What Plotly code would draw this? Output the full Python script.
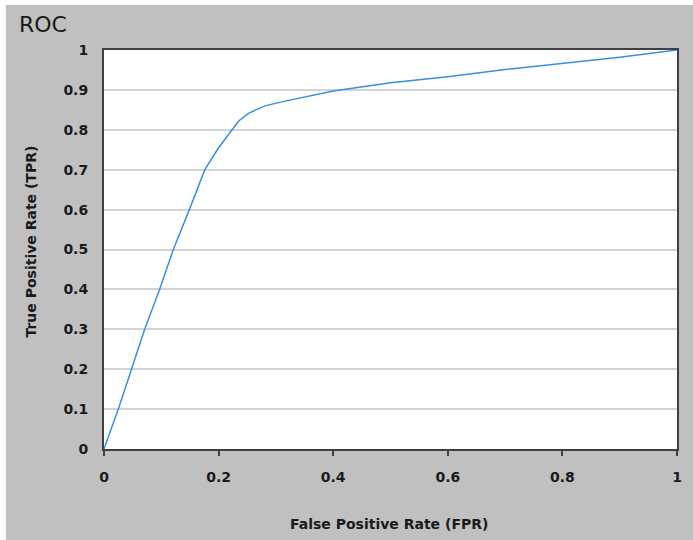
import plotly.graph_objects as go

fpr = [0, 0.025, 0.048, 0.071, 0.097, 0.121, 0.149, 0.176, 0.2, 0.223, 0.235, 0.253, 0.281, 0.31, 0.339, 0.4, 0.5, 0.6, 0.7, 0.8, 0.9, 1.0]
tpr = [0, 0.1, 0.2, 0.3, 0.4, 0.5, 0.6, 0.7, 0.755, 0.8, 0.822, 0.842, 0.86, 0.87, 0.879, 0.897, 0.918, 0.933, 0.951, 0.967, 0.982, 1.0]

x_ticks = [0, 0.2, 0.4, 0.6, 0.8, 1]
x_labels = ["0", "0.2", "0.4", "0.6", "0.8", "1"]
y_ticks = [0, 0.1, 0.2, 0.3, 0.4, 0.5, 0.6, 0.7, 0.8, 0.9, 1]
y_labels = ["0", "0.1", "0.2", "0.3", "0.4", "0.5", "0.6", "0.7", "0.8", "0.9", "1"]

fig = go.Figure()
fig.add_trace(go.Scatter(x=fpr, y=tpr, mode="lines",
                         line=dict(color="#3a8ee6", width=1.5), showlegend=False))

tickfont = dict(family="DejaVu Sans", size=14, color="#1a1a1a", weight="bold")

fig.update_layout(
    width=693, height=540,
    margin=dict(l=104, r=11, t=50, b=91),
    paper_bgcolor="#c0c0c0",
    plot_bgcolor="#ffffff",
    xaxis=dict(range=[0, 1], tickvals=x_ticks, ticktext=x_labels,
               showgrid=False, zeroline=False, ticks="outside", ticklen=5,
               tickwidth=1.5, tickcolor="#404040",
               showline=True, linecolor="#404040", linewidth=2, mirror=True,
               tickfont=tickfont, ticklabelstandoff=9),
    yaxis=dict(range=[0, 1], tickvals=y_ticks, ticktext=y_labels,
               showgrid=True, gridcolor="#d3d3d3", gridwidth=1.5,
               zeroline=False, ticks="",
               showline=True, linecolor="#404040", linewidth=2, mirror=True,
               tickfont=tickfont, ticklabelstandoff=11),
    annotations=[
        dict(text="ROC", xref="paper", yref="paper", x=-0.152, y=1.063, xanchor="left", yanchor="middle",
             showarrow=False, font=dict(family="DejaVu Sans", size=22, color="#1a1a1a")),
        dict(text="False Positive Rate (FPR)", xref="paper", yref="paper", x=0.498, y=-0.187,
             xanchor="center", yanchor="middle", showarrow=False,
             font=dict(family="DejaVu Sans", size=14, color="#1a1a1a", weight="bold")),
        dict(text="True Positive Rate (TPR)", xref="paper", yref="paper", x=-0.128, y=0.519,
             xanchor="center", yanchor="middle", textangle=-90, showarrow=False,
             font=dict(family="DejaVu Sans", size=14, color="#1a1a1a", weight="bold")),
    ],
    shapes=[
        dict(type="rect", xref="paper", yref="paper", x0=-0.2, x1=-0.1713, y0=-0.3, y1=1.2,
             fillcolor="#ffffff", line=dict(width=0), layer="below"),
        dict(type="rect", xref="paper", yref="paper", x0=-0.2, x1=1.1, y0=1.1128, y1=1.2,
             fillcolor="#ffffff", line=dict(width=0), layer="below"),
    ],
)

fig.write_html("out.html", config={"displayModeBar": False},
               post_script="document.body.style.margin='0';document.body.style.overflow='hidden';")
